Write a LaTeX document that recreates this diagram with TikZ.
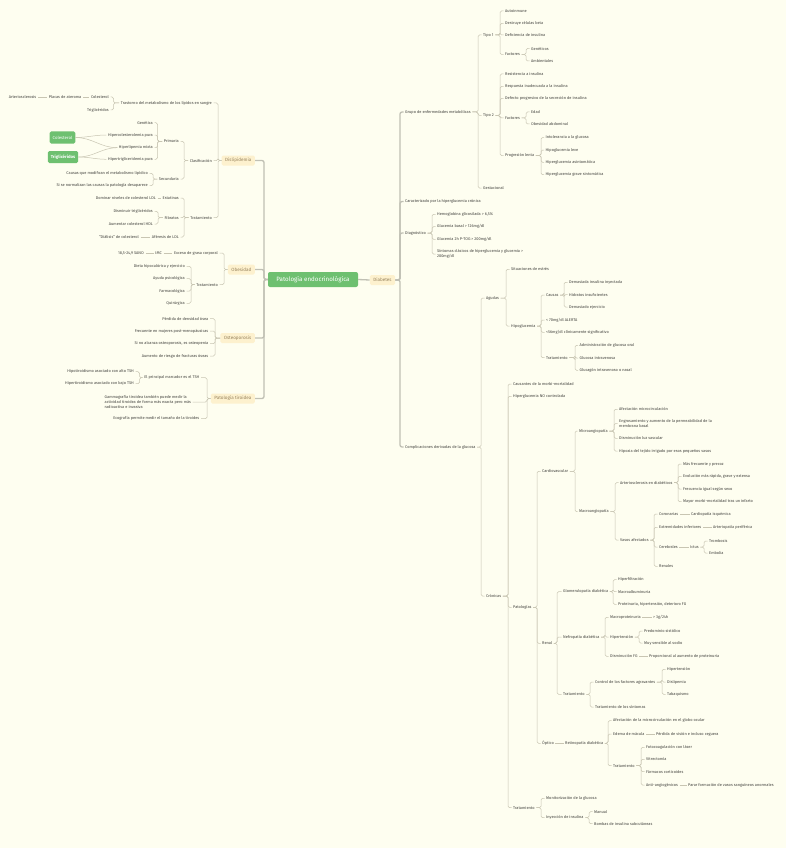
\documentclass[tikz,border=0pt]{standalone}
\usepackage{fontspec}
\setmainfont{Fira Sans}
\definecolor{bgc}{RGB}{254,254,240}
\definecolor{linec}{RGB}{200,197,178}
\definecolor{spinec}{RGB}{192,192,180}
\definecolor{leafc}{RGB}{66,66,62}
\definecolor{subfill}{RGB}{253,241,206}
\definecolor{subtext}{RGB}{150,130,92}
\definecolor{greenc}{RGB}{110,192,112}
\tikzset{
 lf/.style={font=\fontsize{3.9}{4.7}\selectfont, text=leafc, inner xsep=1.5, inner ysep=0.6, align=left},
 lw/.style={lf, anchor=west},
 le/.style={lf, anchor=east},
 ln/.style={draw=linec, line width=0.5, rounded corners=1.5},
 spine/.style={draw=spinec, line width=1.3, rounded corners=2},
 subn/.style={fill=subfill, text=subtext, rounded corners=1.5, font=\fontsize{4.6}{5.5}\selectfont, inner xsep=3.5, inner ysep=0, minimum height=10},
 mainn/.style={fill=greenc, text=white, rounded corners=2, font=\fontsize{6.2}{7}\selectfont, minimum width=90, minimum height=15, inner sep=0},
 grn/.style={fill=greenc, text=white, rounded corners=1.5, font=\fontsize{4.3}{5}\selectfont, minimum height=12, inner xsep=3},
}
\newcommand\RB[3]{\draw[ln] (#1.east) -| (#3,0 |- #2.west) -- (#2.west);}
\newcommand\LB[3]{\draw[ln] (#1.west) -| (#3,0 |- #2.east) -- (#2.east);}
\newcommand\CH[2]{\draw[ln] (#1.east) -- (#2.west);}
\begin{document}
\begin{tikzpicture}[x=1pt,y=-1pt]
\fill[bgc] (0,0) rectangle (786,848);
\useasboundingbox (0,0) rectangle (786,848);

% ---------- main nodes ----------
\node[mainn] (root) at (313,279.5) {Patología endocrinológica};
\node[subn] (diab) at (382.5,280) {Diabetes};
\node[subn,anchor=east] (disl) at (255,160.5) {Dislipidemia};
\node[subn,anchor=east] (obes) at (255,269.5) {Obesidad};
\node[subn,anchor=east] (osteo) at (255,338) {Osteoporosis};
\node[subn,anchor=east] (tiro) at (255,398.5) {Patología tiroidea};

% ---------- Diabetes subtree ----------
\node[lw] (gru) at (403.5,112) {Grupo de enfermedades metabólicas};
\node[lw] (carac) at (403.5,201.5) {Caracterizado por la hiperglucemia crónica};
\node[lw] (diag) at (403.5,233) {Diagnóstico};
\node[lw] (compl) at (403.5,447) {Complicaciones derivadas de la glucosa};

\node[lw] (t1) at (481.5,35) {Tipo 1};
\node[lw] (t2) at (481.5,115.5) {Tipo 2};
\node[lw] (gest) at (481.5,188) {Gestacional};

\node[lw] (auto) at (503.5,11) {Autoinmune};
\node[lw] (destr) at (503.5,23.5) {Destruye células beta};
\node[lw] (defi) at (503.5,35) {Deficiencia de insulina};
\node[lw] (fac1) at (503.5,54.5) {Factores};
\node[lw] (gen) at (529.5,48.5) {Genéticos};
\node[lw] (amb) at (529.5,61) {Ambientales};

\node[lw] (resi) at (503.5,74) {Resistencia a insulina};
\node[lw] (resp) at (503.5,86.5) {Respuesta inadecuada a la insulina};
\node[lw] (defe) at (503.5,98.5) {Defecto progresivo de la secreción de insulina};
\node[lw] (fac2) at (503.5,118) {Factores};
\node[lw] (prog) at (503.5,155.5) {Progresión lenta};
\node[lw] (edad) at (529.5,112) {Edad};
\node[lw] (obab) at (529.5,124) {Obesidad abdominal};
\node[lw] (into) at (544,137.5) {Intolerancia a la glucosa};
\node[lw] (hipol) at (544,150) {Hipoglucemia leve};
\node[lw] (hipas) at (544,162.3) {Hiperglucemia asintomática};
\node[lw] (hipgr) at (544,174.7) {Hiperglucemia grave sintomática};

\node[lw] (hb) at (435.5,214.3) {Hemoglobina glicosilada > 6,5\%};
\node[lw] (gb) at (435.5,226.7) {Glucemia basal > 126mg/dl};
\node[lw] (g2) at (435.5,239.3) {Glucemia 2h P-TOG > 200mg/dl};
\node[lw] (sint) at (435.5,254) {Síntomas clásicos de hiperglucemia y glucemia >\\200mg/dl};

\node[lw] (agud) at (484.5,298) {Agudas};
\node[lw] (cron) at (484.5,596) {Crónicas};

\node[lw] (estr) at (509.5,269.3) {Situaciones de estrés};
\node[lw] (hipo) at (509.5,326) {Hipoglucemia};
\node[lw] (caus) at (544.5,295) {Causas};
\node[lw] (a70) at (544.5,320) {< 70mg/dl ALERTA};
\node[lw] (a56) at (544.5,332.3) {<56mg/dl clínicamente significativo};
\node[lw] (trh) at (544.5,357.7) {Tratamiento};
\node[lw] (dem) at (567.5,282.3) {Demasiada insulina inyectada};
\node[lw] (hid) at (567.5,294.7) {Hidratos insuficientes};
\node[lw] (eje) at (567.5,307) {Demasiado ejercicio};
\node[lw] (adm) at (578,345.3) {Administración de glucosa oral};
\node[lw] (giv) at (578,358) {Glucosa intravenosa};
\node[lw] (gln) at (578,370.3) {Glucagón intravenoso o nasal};

\node[lw] (causm) at (511.5,384) {Causantes de la morbi-mortalidad};
\node[lw] (hnc) at (511.5,396.3) {Hiperglucemia NO controlada};
\node[lw] (pato) at (511.5,607.3) {Patologías};
\node[lw] (trc) at (511.5,807.7) {Tratamiento};

\node[lw] (cardio) at (540.5,471.3) {Cardiovascular};
\node[lw] (renal) at (540.5,643.3) {Renal};
\node[lw] (opt) at (540.5,743.3) {Óptico};

\node[lw] (micro) at (577.5,431) {Microangiopatía};
\node[lw] (macro) at (577.5,511.7) {Macroangiopatía};
\node[lw] (afm) at (617.5,409.3) {Afectación microcirculación};
\node[lw] (engr) at (617.5,423.5) {Engrosamiento y aumento de la permeabilidad de la\\membrana basal};
\node[lw] (dlv) at (617.5,438.3) {Disminución luz vascular};
\node[lw] (hipx) at (617.5,451) {Hipoxia del tejido irrigado por esos pequeños vasos};
\node[lw] (arte) at (618.5,482.7) {Arteriosclerosis en diabéticos};
\node[lw] (vasos) at (618.5,540) {Vasos afectados};
\node[lw] (mf) at (681.5,464) {Más frecuente y precoz};
\node[lw] (evo) at (681.5,476.3) {Evolución más rápida, grave y extensa};
\node[lw] (frec) at (681.5,489) {Frecuencia igual según sexo};
\node[lw] (may) at (681.5,501.7) {Mayor morbi-mortalidad tras un infarto};
\node[lw] (coro) at (657.5,514) {Coronarias};
\node[lw] (extr) at (657.5,527.3) {Extremidades inferiores};
\node[lw] (cere) at (657.5,547) {Cerebrales};
\node[lw] (rena) at (657.5,566.3) {Renales};
\node[lw] (cisq) at (689.5,514) {Cardiopatía isquémica};
\node[lw] (artp) at (711.5,527.3) {Arteriopatía periférica};
\node[lw] (ictus) at (688.5,547) {Ictus};
\node[lw] (tromb) at (707.5,541) {Trombosis};
\node[lw] (embo) at (707.5,553) {Embolia};

\node[lw] (glom) at (561.5,591.7) {Glomerulopatía diabética};
\node[lw] (nefr) at (561.5,637) {Nefropatía diabética};
\node[lw] (trr) at (561.5,694.3) {Tratamiento};
\node[lw] (hfil) at (616.5,579.7) {Hiperfiltración};
\node[lw] (malb) at (616.5,591.7) {Macroalbuminuria};
\node[lw] (prot) at (616.5,604.3) {Proteinuria, hipertensión, deterioro FG};
\node[lw] (mprot) at (608.5,617.3) {Macroproteinuria};
\node[lw] (g24) at (651.5,617.3) {> 3g/24h};
\node[lw] (hten) at (608.5,637) {Hipertensión};
\node[lw] (dfg) at (608.5,656.3) {Disminución FG};
\node[lw] (prop) at (647.5,656.3) {Proporcional al aumento de proteinuria};
\node[lw] (psis) at (642.5,631) {Predominio sistólico};
\node[lw] (msod) at (642.5,643) {Muy sensible al sodio};
\node[lw] (ctrl) at (593.5,682) {Control de los factores agravantes};
\node[lw] (tsin) at (593.5,707) {Tratamiento de los síntomas};
\node[lw] (hta2) at (665.5,669.3) {Hipertensión};
\node[lw] (disl2) at (665.5,682) {Dislipemia};
\node[lw] (taba) at (665.5,694.3) {Tabaquismo};

\node[lw] (reti) at (563.5,743.3) {Retinopatía diabética};
\node[lw] (afg) at (611.5,720.7) {Afectación de la microcirculación en el globo ocular};
\node[lw] (edm) at (611.5,734) {Edema de mácula};
\node[lw] (perd) at (654.5,734) {Pérdida de visión e incluso ceguera};
\node[lw] (tro) at (611.5,765.7) {Tratamiento};
\node[lw] (foto) at (644.5,747.3) {Fotocoagulación con láser};
\node[lw] (vitr) at (644.5,759.3) {Vitrectomía};
\node[lw] (farm) at (644.5,771.7) {Fármacos corticoides};
\node[lw] (anti) at (644.5,785) {Anti-angiogénicos};
\node[lw] (parar) at (686.5,785) {Parar formación de vasos sanguíneos anormales};

\node[lw] (moni) at (544.5,798.3) {Monitorización de la glucosa};
\node[lw] (inye) at (544.5,817.7) {Inyección de insulina};
\node[lw] (manu) at (592.5,811.7) {Manual};
\node[lw] (bomb) at (592.5,823.7) {Bombas de insulina subcutáneas};

% ---------- Left side ----------
\node[le] (tras) at (213.5,103) {Trastorno del metabolismo de los lípidos en sangre};
\node[le] (clas) at (213.5,160.5) {Clasificación};
\node[le] (trd) at (213.5,217.7) {Tratamiento};
\node[le] (col1) at (110.5,97) {Colesterol};
\node[le] (trig1) at (110.5,110) {Triglicéridos};
\node[le] (plac) at (83,97) {Placas de ateroma};
\node[le] (arte1) at (38,97) {Arteriosclerosis};
\node[le] (prim) at (180.5,141.3) {Primaria};
\node[le] (secu) at (180.5,179) {Secundaria};
\node[le] (genet) at (154.5,122.7) {Genética};
\node[le] (hcp) at (154.5,135) {Hipercolesterolemia pura};
\node[le] (hlm) at (154.5,147.7) {Hiperlipemia mixta};
\node[le] (htp) at (154.5,159.3) {Hipertrigliceridemia pura};
\node[le] (cmod) at (149.5,173.3) {Causas que modifican el metabolismo lipídico};
\node[le] (snor) at (149.5,185.7) {Si se normalizan las causas la patología desaparece};
\node[le] (esta) at (180.5,198) {Estatinas};
\node[le] (fibr) at (180.5,217.7) {Fibratos};
\node[le] (afer) at (180.5,237) {Aféresis de LDL};
\node[le] (dom) at (157.5,198) {Dominar niveles de colesterol LDL};
\node[le] (dtri) at (154.5,211.3) {Disminuir triglicéridos};
\node[le] (ahdl) at (154.5,224) {Aumentar colesterol HDL};
\node[le] (dial) at (140.5,237) {``Diálisis'' de colesterol};

\node[grn] (colg) at (62.5,137.5) {Colesterol};
\node[grn,font=\fontsize{4.3}{5}\selectfont\bfseries] (trg) at (63,157) {Triglicéridos};

\node[le] (exc) at (219.5,253) {Exceso de grasa corporal};
\node[le] (imc) at (163.5,253) {IMC};
\node[le] (sano) at (145.5,253) {18,5-24,9 SANO};
\node[le] (tro2) at (219.5,284.7) {Tratamiento};
\node[le] (diet) at (186.5,266.3) {Dieta hipocalórica y ejercicio};
\node[le] (ayu) at (186.5,278.7) {Ayuda psicológica};
\node[le] (farmo) at (186.5,291) {Farmacológica};
\node[le] (quir) at (186.5,303.3) {Quirúrgica};

\node[le] (perd2) at (210,318.7) {Pérdida de densidad ósea};
\node[le] (frecm) at (210,331) {Frecuente en mujeres post-menopáusicas};
\node[le] (snoa) at (210,343.7) {Si no alcanza osteoporosis, es osteopenia};
\node[le] (aum) at (210,356) {Aumento de riesgo de fracturas óseas};

\node[le] (tsh) at (201,377.7) {El principal marcador es el TSH};
\node[lw] (gam) at (103,402) {Gammagrafía tiroidea también puede medir la\\actividad tiroidea de forma más exacta pero más\\radioactiva e invasiva};
\node[le] (eco) at (201,418.7) {Ecografía permite medir el tamaño de la tiroides};
\node[le] (hipot) at (135.5,371.7) {Hipotiroidismo asociado con alto TSH};
\node[le] (hiper) at (135.5,383.7) {Hipertiroidismo asociado con bajo TSH};

% ---------- connectors ----------
\draw[spine] (root.east) -- (diab.west);
\foreach \c in {gru,carac,diag,compl} {\draw[spine] (diab.east) -| (400,0 |- \c.west) -- (\c.west);}
\foreach \c in {disl,obes,osteo,tiro} {\draw[spine] (root.west) -| (264,0 |- \c.east) -- (\c.east);}

\foreach \c in {t1,t2,gest} {\RB{gru}{\c}{478}}
\foreach \c in {auto,destr,defi,fac1} {\RB{t1}{\c}{500}}
\foreach \c in {gen,amb} {\RB{fac1}{\c}{526}}
\foreach \c in {resi,resp,defe,fac2,prog} {\RB{t2}{\c}{500}}
\foreach \c in {edad,obab} {\RB{fac2}{\c}{526}}
\foreach \c in {into,hipol,hipas,hipgr} {\RB{prog}{\c}{541}}
\foreach \c in {hb,gb,g2,sint} {\RB{diag}{\c}{432}}
\foreach \c in {agud,cron} {\RB{compl}{\c}{481}}
\foreach \c in {estr,hipo} {\RB{agud}{\c}{506}}
\foreach \c in {caus,a70,a56,trh} {\RB{hipo}{\c}{541}}
\foreach \c in {dem,hid,eje} {\RB{caus}{\c}{564}}
\foreach \c in {adm,giv,gln} {\RB{trh}{\c}{575}}
\foreach \c in {causm,hnc,pato,trc} {\RB{cron}{\c}{508}}
\foreach \c in {cardio,renal,opt} {\RB{pato}{\c}{537}}
\foreach \c in {micro,macro} {\RB{cardio}{\c}{575}}
\foreach \c in {afm,engr,dlv,hipx} {\RB{micro}{\c}{614}}
\foreach \c in {arte,vasos} {\RB{macro}{\c}{615}}
\foreach \c in {mf,evo,frec,may} {\RB{arte}{\c}{678}}
\foreach \c in {coro,extr,cere,rena} {\RB{vasos}{\c}{654}}
\CH{coro}{cisq}
\CH{extr}{artp}
\CH{cere}{ictus}
\foreach \c in {tromb,embo} {\RB{ictus}{\c}{704}}
\foreach \c in {glom,nefr,trr} {\RB{renal}{\c}{557}}
\foreach \c in {hfil,malb,prot} {\RB{glom}{\c}{613}}
\foreach \c in {mprot,hten,dfg} {\RB{nefr}{\c}{605}}
\CH{mprot}{g24}
\CH{dfg}{prop}
\foreach \c in {psis,msod} {\RB{hten}{\c}{639}}
\foreach \c in {ctrl,tsin} {\RB{trr}{\c}{590}}
\foreach \c in {hta2,disl2,taba} {\RB{ctrl}{\c}{662}}
\CH{opt}{reti}
\foreach \c in {afg,edm,tro} {\RB{reti}{\c}{608}}
\CH{edm}{perd}
\foreach \c in {foto,vitr,farm,anti} {\RB{tro}{\c}{641}}
\CH{anti}{parar}
\foreach \c in {moni,inye} {\RB{trc}{\c}{541}}
\foreach \c in {manu,bomb} {\RB{inye}{\c}{589}}

\foreach \c in {tras,clas,trd} {\LB{disl}{\c}{218}}
\foreach \c in {col1,trig1} {\LB{tras}{\c}{113.5}}
\CH{arte1}{plac}
\CH{plac}{col1}
\foreach \c in {prim,secu} {\LB{clas}{\c}{184}}
\foreach \c in {genet,hcp,hlm,htp} {\LB{prim}{\c}{157.5}}
\foreach \c in {cmod,snor} {\LB{secu}{\c}{153}}
\foreach \c in {esta,fibr,afer} {\LB{trd}{\c}{184}}
\CH{dom}{esta}
\foreach \c in {dtri,ahdl} {\LB{fibr}{\c}{158}}
\CH{dial}{afer}
\draw[ln] (colg.east) to[out=0,in=180] (hcp.west);
\draw[ln] (colg.east) to[out=0,in=180] (hlm.west);
\draw[ln] (trg.east) to[out=0,in=180] (hlm.west);
\draw[ln] (trg.east) to[out=0,in=180] (htp.west);

\foreach \c in {exc,tro2} {\LB{obes}{\c}{224}}
\CH{sano}{imc}
\CH{imc}{exc}
\foreach \c in {diet,ayu,farmo,quir} {\LB{tro2}{\c}{191}}
\foreach \c in {perd2,frecm,snoa,aum} {\LB{osteo}{\c}{215}}
\foreach \c in {tsh,eco} {\LB{tiro}{\c}{207}}
\draw[ln] (tiro.west) -| (207,0 |- gam.east) -- (gam.east);
\foreach \c in {hipot,hiper} {\LB{tsh}{\c}{139.5}}
\end{tikzpicture}
\end{document}
